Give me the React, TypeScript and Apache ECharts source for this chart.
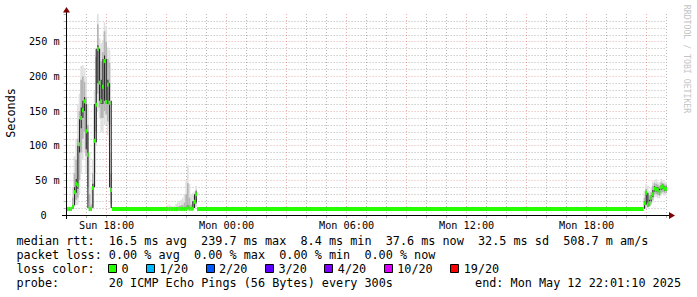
import React, { useEffect, useRef } from "react";
import * as echarts from "echarts";

// ---------- data (hours measured from Sun 00:00) ----------
const T0 = 16 + 1 / 60 + 10 / 3600; // first step: Sun 16:01:10
const STEP = 5 / 60; // 300 s per step

const flatMedian = 8.6;
const flatRuns = [
  [27, 60],
  [78, 346],
];

const peakStart = 0;
const peakMedian = [8.6, 8.6, 8.6, 12, 33, 45, 43, 102, 140, 151, 164, 121, 87, 8.6, 8.6, 39, 107, 159, 239.7, 191, 164, 185, 222, 163, 188, 162, 36];
const peakOuter = [
  [8, 9], [8, 9], [8, 12], [8, 40], [12, 85], [14, 110], [15, 160], [30, 175], [60, 215], [80, 216], [90, 212], [60, 200], [20, 160], [8, 90],
  [8, 40], [8, 80], [40, 180], [100, 240], [150, 290], [140, 255], [120, 248], [120, 252], [130, 278], [130, 272], [115, 242], [100, 238], [10, 90],
];
const peakMid = [
  [8, 9], [8, 9], [8, 10], [9, 25], [18, 60], [22, 80], [25, 110], [50, 150], [90, 195], [110, 200], [120, 192], [85, 170], [40, 130], [8, 30],
  [8, 15], [12, 60], [60, 160], [120, 228], [175, 275], [155, 240], [140, 222], [140, 235], [150, 265], [145, 250], [135, 225], [130, 220], [15, 60],
];
const peakCore = [
  [8, 9], [8, 9], [8, 9], [9, 14], [14, 40], [32, 52], [38, 100], [90, 138], [125, 155], [140, 165], [150, 170], [95, 160], [10, 120], [8, 10],
  [8, 10], [10, 45], [40, 160], [105, 240], [190, 245], [165, 240], [160, 195], [160, 225], [165, 230], [160, 225], [160, 195], [40, 190], [10, 165],
];

const bumpStart = 60;
const bumpMedian = [8.6, 8.6, 8.6, 8.6, 8.6, 8.6, 8.6, 8.6, 8.6, 8.6, 8.6, 8.6, 11, 9, 9, 9, 19, 30];
const bumpOuter = [
  [8, 14], [8, 15], [8, 13], [8, 12], [8, 13], [8, 16], [8, 18], [8, 20], [8, 22], [8, 25], [8, 30], [8, 50], [8, 72], [8, 45], [8, 30], [8, 32], [10, 34], [12, 42],
];
const bumpMid = [
  [8, 10], [8, 10], [8, 10], [8, 10], [8, 10], [8, 11], [8, 12], [8, 13], [8, 14], [8, 14], [9, 18], [9, 30], [9, 46], [9, 25], [9, 15], [9, 20], [12, 28], [16, 36],
];
const bumpCore = [
  [8, 9], [8, 9], [8, 9], [8, 9], [8, 9], [8, 9], [8, 9], [8, 9], [8, 10], [8, 10], [8, 11], [8, 12], [8, 14], [8, 10], [8, 10], [9, 20], [10, 30], [18, 34],
];

const endStart = 346;
const endMedian = [17, 32, 15, 17, 25, 30, 38, 37, 36, 33, 40, 41, 38, 37.6];
const endOuter = [
  [9, 35], [10, 45], [10, 42], [11, 35], [14, 40], [18, 48], [25, 50], [26, 52], [24, 48], [24, 47], [28, 52], [30, 50], [28, 48], [28, 48],
];
const endMid = [
  [10, 25], [14, 38], [12, 30], [13, 28], [17, 33], [22, 42], [30, 46], [30, 45], [29, 44], [28, 42], [32, 47], [33, 46], [32, 44], [32, 44],
];
const endCore = [
  [9, 20], [15, 34], [12, 32], [14, 22], [20, 28], [26, 36], [34, 42], [34, 40], [33, 40], [30, 38], [36, 43], [37, 44], [35, 41], [35, 41],
];

const xTickHours = [18, 24, 30, 36, 42];
const xTickLabels = ["Sun 18:00", "Mon 00:00", "Mon 06:00", "Mon 12:00", "Mon 18:00"];
const yTicks = [0, 50, 100, 150, 200, 250];
const yTickLabels = ["0", "50 m", "100 m", "150 m", "200 m", "250 m"];

const rttStats = ["16.5 ms avg", "239.7 ms max", "8.4 ms min", "37.6 ms now", "32.5 ms sd", "508.7 m am/s"];
const lossStats = ["0.00 % avg", "0.00 % max", "0.00 % min", "0.00 % now"];
const lossLabels = ["0", "1/20", "2/20", "3/20", "4/20", "10/20", "19/20"];
const lossColors = ["#26ff00", "#00b8ff", "#0059ff", "#5e00ff", "#7e00ff", "#dd00ff", "#ff0000"];
const probeText = "20 ICMP Echo Pings (56 Bytes) every 300s";
const endText = "end: Mon May 12 22:01:10 2025";

// ---------- layout / style ----------
const GL = 66.6;
const GT = 14;
const GW = 600;
const GH = 201;
const MONO = '"DejaVu Sans Mono", monospace';
const GRID = "rgba(110,110,110,0.5)";
const MGRID = "rgba(200,50,50,0.38)";
const AXIS = "#000000";
const ARROW = "#7f0000";
const LEG = 11.8;
const CW = 7.1;

function bandItems(start: number, bands: number[][]) {
  return bands.map((b, i) => [T0 + (start + i) * STEP, T0 + (start + i + 1) * STEP, b[0], b[1]]);
}
function medItems(start: number, meds: number[]) {
  return meds.map((m, i) => [T0 + (start + i) * STEP, T0 + (start + i + 1) * STEP, m]);
}

function buildOption() {
  const outer = [...bandItems(peakStart, peakOuter), ...bandItems(bumpStart, bumpOuter), ...bandItems(endStart, endOuter)];
  const mid = [...bandItems(peakStart, peakMid), ...bandItems(bumpStart, bumpMid), ...bandItems(endStart, endMid)];
  const core = [...bandItems(peakStart, peakCore), ...bandItems(bumpStart, bumpCore), ...bandItems(endStart, endCore)];
  const med = [
    ...medItems(peakStart, peakMedian),
    ...medItems(bumpStart, bumpMedian),
    ...medItems(endStart, endMedian),
    ...flatRuns.map((r) => [T0 + r[0] * STEP, T0 + r[1] * STEP, flatMedian]),
  ];

  const bandSeries = (data: number[][], color: string, thin: boolean) => ({
    type: "custom",
    clip: true,
    silent: true,
    encode: { x: [0, 1], y: [2, 3] },
    data,
    renderItem: (_p: any, api: any) => {
      const a = api.coord([api.value(0), api.value(3)]);
      const b = api.coord([api.value(1), api.value(2)]);
      const w = b[0] - a[0];
      const x = thin ? a[0] + w * 0.25 : a[0];
      return {
        type: "rect",
        shape: { x, y: a[1], width: thin ? 1 : w, height: Math.max(b[1] - a[1], 0.5) },
        style: { fill: color },
      };
    },
  });

  const medSeries = {
    type: "custom",
    clip: true,
    silent: true,
    encode: { x: [0, 1], y: 2 },
    data: med,
    renderItem: (_p: any, api: any) => {
      const a = api.coord([api.value(0), api.value(2)]);
      const b = api.coord([api.value(1), api.value(2)]);
      return {
        type: "rect",
        shape: { x: a[0], y: a[1] - 2, width: b[0] - a[0], height: 4 },
        style: { fill: lossColors[0] },
      };
    },
  };

  const graphic: any[] = [];
  graphic.push({ type: "line", shape: { x1: 62, y1: 215.5, x2: 670, y2: 215.5 }, style: { stroke: AXIS, lineWidth: 1 }, z: 100 });
  graphic.push({ type: "line", shape: { x1: 66.5, y1: 219, x2: 66.5, y2: 11 }, style: { stroke: AXIS, lineWidth: 1 }, z: 100 });
  graphic.push({ type: "polygon", shape: { points: [[669, 212], [669, 219], [675, 215.5]] }, style: { fill: ARROW }, z: 101 });
  graphic.push({ type: "polygon", shape: { points: [[63, 12.5], [70, 12.5], [66.5, 7]] }, style: { fill: ARROW }, z: 101 });

  const txt = (x: number, y: number, text: string, size: number, opts: any = {}) => ({
    type: "text",
    x,
    y,
    rotation: opts.rotation || 0,
    z: 102,
    style: {
      text,
      font: `${size}px ${MONO}`,
      fill: opts.fill || "#000",
      textAlign: opts.align || "left",
      align: opts.align || "left",
      textVerticalAlign: "middle",
      verticalAlign: "middle",
    },
  });

  graphic.push(txt(11, 113, "Seconds", LEG, { rotation: Math.PI / 2, align: "center" }));
  graphic.push(txt(687, 59, "RRDTOOL / TOBI OETIKER", 8.2, { rotation: -Math.PI / 2, align: "center", fill: "#c4c4c4" }));

  const col = (n: number) => 16.5 + n * CW;
  const r1 = 241;
  graphic.push(txt(col(0), r1, "median rtt:", LEG));
  const r1cols = [13, 26, 40, 52, 65, 77];
  rttStats.forEach((s, i) => graphic.push(txt(col(r1cols[i]), r1, s, LEG)));
  const r2 = 255;
  graphic.push(txt(col(0), r2, "packet loss:", LEG));
  lossStats.forEach((s, i) => graphic.push(txt(col(13 + i * 12), r2, s, LEG)));
  const r3 = 269;
  graphic.push(txt(col(0), r3, "loss color:", LEG));
  let bx = 108;
  lossLabels.forEach((lab, i) => {
    graphic.push({
      type: "rect",
      z: 102,
      shape: { x: Math.round(bx) + 0.5, y: r3 - 4.5, width: 8, height: 8 },
      style: { fill: lossColors[i], stroke: "#000", lineWidth: 1 },
    });
    graphic.push(txt(bx + 13.5, r3, lab, LEG));
    bx = bx + 13.5 + lab.length * CW + 17.5;
  });
  const r4 = 283;
  graphic.push(txt(col(0), r4, "probe:", LEG));
  graphic.push(txt(col(13), r4, probeText, LEG));
  graphic.push(txt(681, r4, endText, LEG, { align: "right" }));

  return {
    animation: false,
    backgroundColor: "#ffffff",
    grid: { left: GL, top: GT, width: GW, height: GH, containLabel: false },
    xAxis: {
      type: "value",
      min: 16,
      max: 46,
      interval: 1,
      axisLine: { show: false },
      axisTick: { show: true, length: 3, lineStyle: { color: GRID } },
      axisLabel: {
        margin: 5,
        fontFamily: MONO,
        fontSize: 10.2,
        color: "#000",
        formatter: (v: number) => {
          const i = xTickHours.findIndex((h) => Math.abs(h - v) < 1e-6);
          return i < 0 ? "" : xTickLabels[i];
        },
      },
      splitLine: { show: true, lineStyle: { color: [GRID, GRID, MGRID], type: [1, 2], width: 1 } },
    },
    yAxis: {
      type: "value",
      min: 0,
      max: 290,
      interval: 10,
      axisLine: { show: false },
      axisTick: { show: true, length: 3, lineStyle: { color: GRID } },
      axisLabel: {
        margin: 7,
        fontFamily: MONO,
        fontSize: 10.2,
        color: "#000",
        formatter: (v: number) => {
          const i = yTicks.findIndex((t) => Math.abs(t - v) < 1e-6);
          if (i < 0) return "";
          return i === 0 ? "{z|0}" : yTickLabels[i];
        },
        rich: { z: { fontFamily: MONO, fontSize: 10.2, color: "#000", padding: [0, 13, 0, 0] } },
      },
      splitLine: { show: true, showMaxLine: false, lineStyle: { color: [MGRID, GRID, GRID, GRID, GRID], type: [1, 2], width: 1 } },
    },
    series: [bandSeries(outer, "#e0e0e0", false), bandSeries(mid, "#b4b4b4", false), bandSeries(core, "#1e1e1e", true), medSeries],
    graphic,
  };
}

export default function App() {
  const ref = useRef<HTMLDivElement>(null);
  useEffect(() => {
    const chart = echarts.init(ref.current!, undefined, { renderer: "svg" });
    chart.setOption(buildOption() as any);
    return () => chart.dispose();
  }, []);
  return <div ref={ref} style={{ position: "fixed", left: 0, top: 0, width: 697, height: 297 }} />;
}
